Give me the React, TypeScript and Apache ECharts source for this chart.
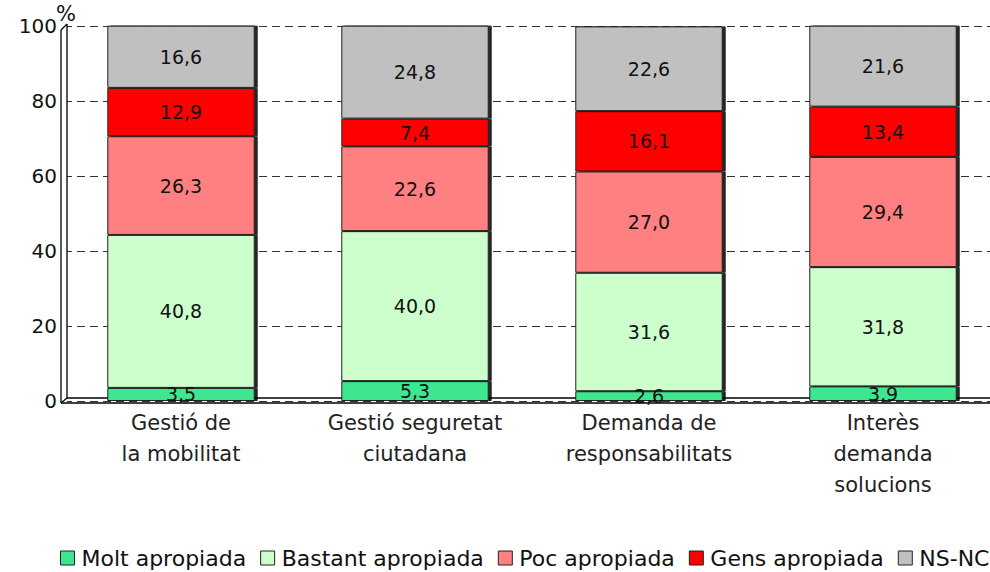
import React, { useEffect, useRef } from "react";
import * as echarts from "echarts";

const categories = ["Gestió de\nla mobilitat", "Gestió seguretat\nciutadana", "Demanda de\nresponsabilitats", "Interès\ndemanda\nsolucions"];
const seriesNames = ["Molt apropiada", "Bastant apropiada", "Poc apropiada", "Gens apropiada", "NS-NC"];
const molt = [3.5, 5.3, 2.6, 3.9];
const bastant = [40.8, 40.0, 31.6, 31.8];
const poc = [26.3, 22.6, 27.0, 29.4];
const gens = [12.9, 7.4, 16.1, 13.4];
const nsnc = [16.6, 24.8, 22.6, 21.6];
const colors = ["#3ce68f", "#ccffcc", "#ff8080", "#ff0000", "#c0c0c0"];
const yTicks = [0, 20, 40, 60, 80, 100];

const FONT = "DejaVu Sans";

export default function App() {
  const ref = useRef<HTMLDivElement>(null);
  useEffect(() => {
    const chart = echarts.init(ref.current!, undefined, { renderer: "svg" });
    const data = [molt, bastant, poc, gens, nsnc];
    const line = (x1: number, y1: number, x2: number, y2: number) => ({
      type: "line",
      z: 1,
      shape: { x1, y1, x2, y2 },
      style: { stroke: "#000", lineWidth: 1.3 },
    });
    chart.setOption({
      animation: false,
      grid: { left: 64, top: 26, width: 936, height: 375, containLabel: false },
      legend: {
        left: 55,
        top: 542,
        itemWidth: 14,
        itemHeight: 14,
        itemGap: 14,
        icon: "rect",
        itemStyle: { borderColor: "#222", borderWidth: 1 },
        textStyle: { fontFamily: FONT, fontSize: 22, color: "#111", padding: [0, 0, 0, 2] },
        data: seriesNames,
      },
      xAxis: {
        type: "category",
        data: categories,
        axisLine: { show: false },
        axisTick: { show: false },
        axisLabel: { fontFamily: FONT, fontSize: 21, color: "#222", lineHeight: 31, margin: 6 },
      },
      yAxis: {
        type: "value",
        min: 0,
        max: 100,
        interval: 20,
        axisLine: { show: false },
        axisTick: { show: false },
        axisLabel: {
          fontFamily: FONT,
          fontSize: 20,
          color: "#111",
          margin: 7,
          formatter: (v: number) => (yTicks.includes(v) ? String(v) : ""),
        },
        splitLine: { show: true, lineStyle: { color: "#333", type: [8, 5], width: 1 } },
      },
      graphic: [
        { type: "text", left: 56, top: 3, style: { text: "%", fontFamily: FONT, fontSize: 21, fill: "#111" } },
        { type: "rect", z: 1, shape: { x: 61, y: 24, width: 6, height: 379 }, style: { fill: "#fff" } },
        line(61, 30, 61, 403),
        line(67, 24, 67, 398),
        line(61, 30, 67, 24),
        line(67, 398, 1010, 398),
        line(61, 403, 1010, 403),
        line(61, 403, 67, 398),
      ],
      series: seriesNames.map((name, i) => ({
        name,
        type: "bar",
        stack: "total",
        barWidth: "63%",
        z: 200,
        data: data[i],
        itemStyle: {
          color: colors[i],
          borderColor: "#222",
          borderWidth: 1,
          shadowColor: "rgba(0,0,0,0.85)",
          shadowOffsetX: 3,
          shadowOffsetY: 0,
          shadowBlur: 0,
        },
        label: {
          show: true,
          position: "inside",
          fontFamily: FONT,
          fontSize: 19,
          color: "#111",
          formatter: (p: any) => Number(p.value).toFixed(1).replace(".", ","),
        },
      })),
    });
    return () => chart.dispose();
  }, []);
  return (
    <div style={{ position: "fixed", left: 0, top: 0, width: 990, height: 572, overflow: "hidden", background: "#fff" }}>
      <div ref={ref} style={{ width: 1010, height: 572 }} />
    </div>
  );
}
